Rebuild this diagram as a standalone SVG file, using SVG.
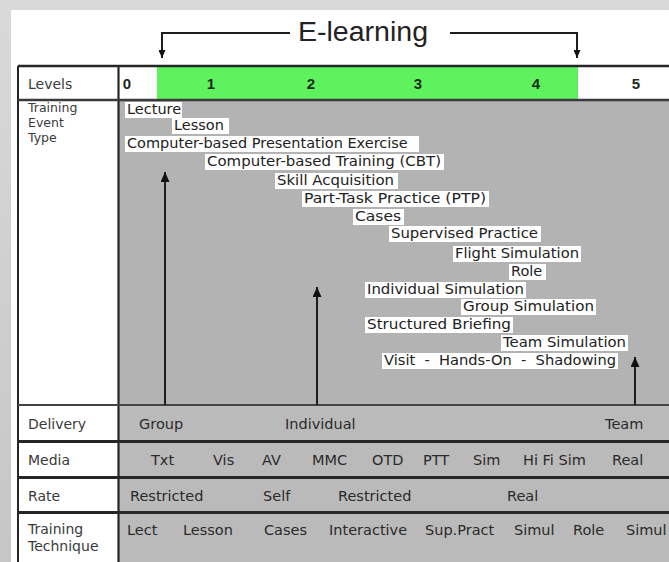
<svg xmlns="http://www.w3.org/2000/svg" width="669" height="562" viewBox="0 0 669 562">
<defs>
<style>
.lbl{font-family:"DejaVu Sans",sans-serif;font-size:14px;fill:#3a3a3a}
.lbs{font-family:"DejaVu Sans",sans-serif;font-size:12.5px;fill:#3a3a3a}
.ev{font-family:"DejaVu Sans",sans-serif;font-size:14.5px;fill:#222}
.rw{font-family:"DejaVu Sans",sans-serif;font-size:14.5px;fill:#2a2a2a}
.num{font-family:"Liberation Sans",Arial,sans-serif;font-weight:bold;font-size:15px;fill:#1c2a1c;text-anchor:middle}
.box{fill:#ffffff}
.conn{fill:none;stroke:#1e1e1e;stroke-width:2}
.grid{stroke:#262626;fill:none}
</style>
<linearGradient id="bg" x1="0" y1="0" x2="0" y2="1">
<stop offset="0" stop-color="#d9d9d9"/>
<stop offset="1" stop-color="#c6c6c6"/>
</linearGradient>
<marker id="ah" viewBox="0 0 10 9" refX="10" refY="4.5" markerWidth="10" markerHeight="9" markerUnits="userSpaceOnUse" orient="auto">
<path d="M0,0 L10,4.5 L0,9 Z" fill="#111"/>
</marker>
<marker id="ahs" viewBox="0 0 8 7" refX="8" refY="3.5" markerWidth="8" markerHeight="7" markerUnits="userSpaceOnUse" orient="auto">
<path d="M0,0 L8,3.5 L0,7 Z" fill="#111"/>
</marker>
</defs>

<!-- background -->
<rect x="0" y="0" width="669" height="562" fill="url(#bg)"/>
<rect x="11" y="10" width="658" height="552" fill="#ffffff"/>

<!-- title -->
<g id="elearning">
<text x="298" y="41" font-family="Liberation Sans, Arial, sans-serif" font-size="27" fill="#222" textLength="130" lengthAdjust="spacingAndGlyphs">E-learning</text>
</g>

<!-- table fills -->
<g id="table-fills">
<rect x="119" y="67" width="38" height="32" fill="#ffffff"/>
<rect x="157" y="67" width="421" height="32" fill="#5ef35e"/>
<rect x="578" y="67" width="91" height="32" fill="#ffffff"/>
<rect x="119" y="101" width="550" height="304" fill="#b3b3b3"/>
<rect x="119" y="406" width="550" height="156" fill="#bababa"/>
</g>

<!-- grid lines -->
<g id="grid" class="grid">
<line x1="18" y1="66" x2="669" y2="66" stroke-width="2.5"/>
<line x1="18" y1="66" x2="18" y2="562" stroke-width="2"/>
<line x1="118.5" y1="66" x2="118.5" y2="562" stroke-width="2.2"/>
<line x1="18" y1="100" x2="669" y2="100" stroke-width="2.5" stroke="#3a3a3a"/>
<line x1="18" y1="405" x2="669" y2="405" stroke-width="2" stroke="#444"/>
<line x1="18" y1="441.5" x2="669" y2="441.5" stroke-width="3"/>
<line x1="18" y1="477.5" x2="669" y2="477.5" stroke-width="3"/>
<line x1="18" y1="512.5" x2="669" y2="512.5" stroke-width="3"/>
</g>

<!-- row labels -->
<g id="labels">
<text class="lbl" x="28" y="89">Levels</text>
<text class="lbs" x="28" y="112">Training</text>
<text class="lbs" x="28" y="127">Event</text>
<text class="lbs" x="28" y="142">Type</text>
<text class="lbl" x="28" y="429">Delivery</text>
<text class="lbl" x="28" y="465">Media</text>
<text class="lbl" x="28" y="501">Rate</text>
<text class="lbl" x="28" y="534">Training</text>
<text class="lbl" x="28" y="551">Technique</text>
</g>

<!-- levels -->
<g id="levels">
<text class="num" x="127" y="89">0</text>
<text class="num" x="211" y="89">1</text>
<text class="num" x="311" y="89">2</text>
<text class="num" x="418" y="89">3</text>
<text class="num" x="536" y="89">4</text>
<text class="num" x="636" y="89">5</text>
</g>

<!-- training event types -->
<g id="ev-lecture"><rect class="box" x="125" y="102" width="57" height="16"/><text class="ev" x="127" y="114">Lecture</text></g>
<g id="ev-lesson"><rect class="box" x="172" y="118" width="57" height="16"/><text class="ev" x="174" y="130">Lesson</text></g>
<g id="ev-cbpe"><rect class="box" x="125" y="136" width="294" height="16"/><text class="ev" x="127" y="148">Computer-based Presentation Exercise</text></g>
<g id="ev-cbt"><rect class="box" x="205" y="154" width="239" height="16"/><text class="ev" x="207" y="166" textLength="234" lengthAdjust="spacingAndGlyphs">Computer-based Training (CBT)</text></g>
<g id="ev-skill"><rect class="box" x="275" y="173" width="123" height="16"/><text class="ev" x="277" y="185" textLength="117" lengthAdjust="spacingAndGlyphs">Skill Acquisition</text></g>
<g id="ev-ptp"><rect class="box" x="302" y="191" width="187" height="16"/><text class="ev" x="304" y="203" textLength="182" lengthAdjust="spacingAndGlyphs">Part-Task Practice (PTP)</text></g>
<g id="ev-cases"><rect class="box" x="353" y="209" width="51" height="16"/><text class="ev" x="355" y="221" textLength="46" lengthAdjust="spacingAndGlyphs">Cases</text></g>
<g id="ev-supervised"><rect class="box" x="389" y="226" width="152" height="16"/><text class="ev" x="391" y="238" textLength="147" lengthAdjust="spacingAndGlyphs">Supervised Practice</text></g>
<g id="ev-flight"><rect class="box" x="453" y="246" width="128" height="16"/><text class="ev" x="455" y="258" textLength="124" lengthAdjust="spacingAndGlyphs">Flight Simulation</text></g>
<g id="ev-role"><rect class="box" x="509" y="264" width="37" height="16"/><text class="ev" x="511" y="276">Role</text></g>
<g id="ev-individual"><rect class="box" x="365" y="282" width="161" height="16"/><text class="ev" x="367" y="294" textLength="157" lengthAdjust="spacingAndGlyphs">Individual Simulation</text></g>
<g id="ev-group"><rect class="box" x="461" y="299" width="135" height="16"/><text class="ev" x="463" y="311" textLength="131" lengthAdjust="spacingAndGlyphs">Group Simulation</text></g>
<g id="ev-structured"><rect class="box" x="365" y="317" width="148" height="16"/><text class="ev" x="367" y="329" textLength="144" lengthAdjust="spacingAndGlyphs">Structured Briefing</text></g>
<g id="ev-team"><rect class="box" x="501" y="335" width="127" height="16"/><text class="ev" x="503" y="347" textLength="123" lengthAdjust="spacingAndGlyphs">Team Simulation</text></g>
<g id="ev-visit"><rect class="box" x="382" y="353" width="236" height="16"/><text class="ev" x="384" y="365" xml:space="preserve" textLength="232" lengthAdjust="spacingAndGlyphs">Visit  -  Hands-On  -  Shadowing</text></g>

<!-- delivery -->
<g id="delivery">
<text class="rw" x="139" y="429">Group</text>
<text class="rw" x="285" y="429">Individual</text>
<text class="rw" x="605" y="429">Team</text>
</g>

<!-- media -->
<g id="media">
<text class="rw" x="151" y="465">Txt</text>
<text class="rw" x="213" y="465">Vis</text>
<text class="rw" x="262" y="465">AV</text>
<text class="rw" x="312" y="465">MMC</text>
<text class="rw" x="372" y="465">OTD</text>
<text class="rw" x="423" y="465">PTT</text>
<text class="rw" x="473" y="465">Sim</text>
<text class="rw" x="523" y="465">Hi Fi Sim</text>
<text class="rw" x="612" y="465">Real</text>
</g>

<!-- rate -->
<g id="rate">
<text class="rw" x="130" y="501">Restricted</text>
<text class="rw" x="263" y="501">Self</text>
<text class="rw" x="338" y="501">Restricted</text>
<text class="rw" x="507" y="501">Real</text>
</g>

<!-- training technique -->
<g id="technique">
<text class="rw" x="127" y="535">Lect</text>
<text class="rw" x="183" y="535">Lesson</text>
<text class="rw" x="264" y="535">Cases</text>
<text class="rw" x="329" y="535">Interactive</text>
<text class="rw" x="425" y="535">Sup.Pract</text>
<text class="rw" x="514" y="535">Simul</text>
<text class="rw" x="573" y="535">Role</text>
<text class="rw" x="626" y="535">Simul</text>
</g>

<!-- connectors -->
<g id="connectors">
<path class="conn" d="M290,33 H162 V58" marker-end="url(#ahs)"/>
<path class="conn" d="M450,33 H577 V58" marker-end="url(#ahs)"/>
<path class="conn" d="M165,405 V172" marker-end="url(#ah)"/>
<path class="conn" d="M317,405 V287" marker-end="url(#ah)"/>
<path class="conn" d="M635,405 V357" marker-end="url(#ah)"/>
</g>
</svg>
